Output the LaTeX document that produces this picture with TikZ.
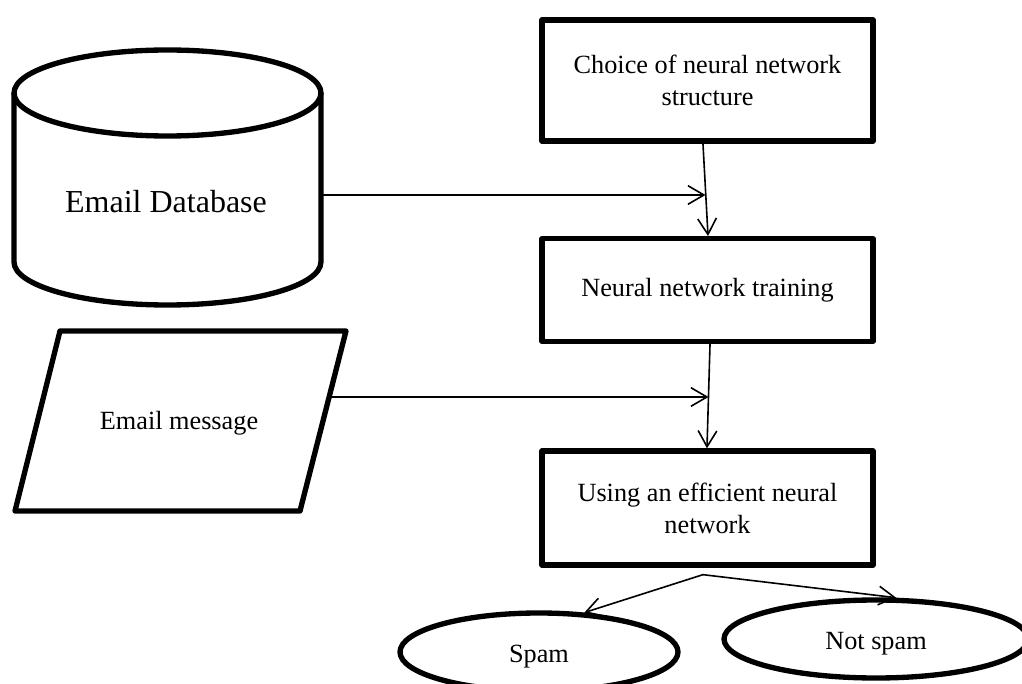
\documentclass[tikz,border=0pt]{standalone}
\usepackage{fontspec}
\setmainfont{Liberation Serif}
\usetikzlibrary{arrows.meta,shapes.geometric,calc}
\tikzset{
  shapeline/.style={line width=4pt, line join=round},
  lbl/.style={font=\fontsize{19.7}{24}\selectfont, align=center, inner sep=0pt},
  box/.style={draw, shapeline, rectangle, lbl, minimum width=248.25pt},
  oval/.style={draw, shapeline, ellipse, inner sep=0pt, minimum height=58.5pt,
    font=\fontsize{19.7}{24}\selectfont, text height=16pt, text depth=1pt},
  arr/.style={line width=1.2pt, -{Straight Barb[length=12pt,width=14pt,line width=1.2pt]}},
}
\begin{document}
\begin{tikzpicture}[x=0.75pt,y=-0.75pt]
\useasboundingbox (0,0) rectangle (1022,684);

% Email database cylinder
\draw[shapeline] (14,93) -- (14,262)
  arc[start angle=180,end angle=360,x radius=115.1pt,y radius=32.25pt] -- (321,93);
\draw[shapeline] (167.5,93) ellipse[x radius=115.1pt,y radius=32.25pt];
\node[font=\fontsize{24}{29}\selectfont, inner sep=0pt, minimum width=232.5pt, anchor=base]
  (db) at (166,213) {Email Database};

% Email message parallelogram
\draw[shapeline] (60,331) -- (346,331) -- (300,511) -- (15,511) -- cycle;
\node[lbl, minimum width=225pt, anchor=base] (msg) at (179,430) {Email message};

% Process boxes
\node[box, minimum height=90.75pt] (b1) at (707.5,80.5) {Choice of neural network\\structure};
\node[box, minimum height=76.9pt] (b2) at (707.5,290) {Neural network training};
\node[box, minimum height=85.5pt] (b3) at (707.5,508) {Using an efficient neural\\network};

% Output ovals
\node[oval, minimum width=208.5pt] (sp) at (539,652) {Spam};
\node[oval, minimum width=228pt] (ns) at (876,639) {Not spam};

% Connectors
\coordinate (j1) at (705.5,195);
\coordinate (j2) at (708.5,397);
\coordinate (ap) at ([xshift=-3.4pt,yshift=-5.25pt]b3.south);

\draw[arr] ([xshift=-3.4pt]b1.south) -- ([xshift=0.4pt]b2.north);
\draw[arr] ([xshift=1.9pt]b2.south) -- ([xshift=-0.4pt]b3.north);
\draw[arr] (db.east |- j1) -- (j1);
\draw[arr] (msg.east |- j2) -- (j2);
\draw[arr] (ap) -- (sp.41);
\draw[arr] (ap) -- (ns.64);
\end{tikzpicture}
\end{document}
